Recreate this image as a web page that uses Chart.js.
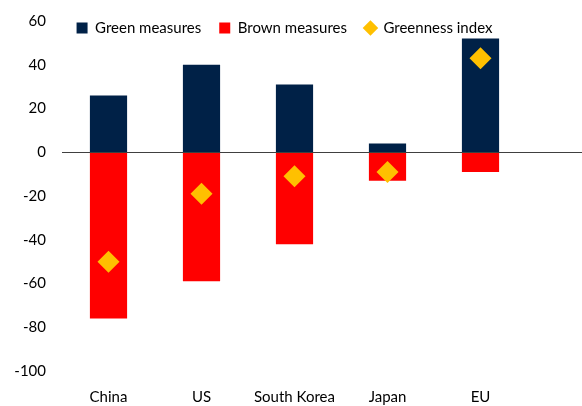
<!DOCTYPE html>
<html>
<head>
<meta charset="utf-8">
<script src="https://cdn.jsdelivr.net/npm/chart.js@4"></script>
<style>
  html, body { margin: 0; padding: 0; background: #fff; }
  #wrap { width: 582px; height: 406px; }
</style>
</head>
<body>
<div id="wrap"><canvas id="chart"></canvas></div>
<script>
// values
const categories = ['China', 'US', 'South Korea', 'Japan', 'EU'];
const greenMeasures = [26, 40, 31, 4, 52];
const brownMeasures = [-76, -59, -42, -13, -9];
const greennessIndex = [-50, -19, -11, -9, 43];
const yTicks = [-100, -80, -60, -40, -20, 0, 20, 40, 60];

const NAVY = '#002147';
const RED = '#FF0000';
const GOLD = '#FFC000';
const FONT = 'Lato, "Open Sans", sans-serif';

// zero line runs past the plot to the right edge, like the original
const zeroLine = {
  id: 'zeroLine',
  afterDatasetsDraw(chart) {
    const y = Math.round(chart.scales.y.getPixelForValue(0)) + 0.5;
    const ctx = chart.ctx;
    ctx.save();
    ctx.strokeStyle = '#404040';
    ctx.lineWidth = 1;
    ctx.beginPath();
    ctx.moveTo(chart.chartArea.left, y);
    ctx.lineTo(chart.width, y);
    ctx.stroke();
    ctx.restore();
  }
};

// legend lives inside the plot area but laid out in one row near the top
const legendInPlot = {
  id: 'legendInPlot',
  beforeLayout(chart) {
    if (chart.legend) chart.legend.isHorizontal = () => true;
  },
  afterLayout(chart) {
    const lg = chart.legend;
    if (!lg) return;
    const area = chart.chartArea;
    lg.left = area.left - 10;
    lg.right = area.right - 10;
    lg.top = area.top - 18.5;
    lg.bottom = lg.top + lg.height;
  }
};

new Chart(document.getElementById('chart'), {
  type: 'bar',
  data: {
    labels: categories,
    datasets: [
      {
        label: 'Green measures',
        data: greenMeasures,
        backgroundColor: NAVY,
        stack: 'measures',
        order: 2
      },
      {
        label: 'Brown measures',
        data: brownMeasures,
        backgroundColor: RED,
        stack: 'measures',
        order: 2
      },
      {
        type: 'line',
        label: 'Greenness index',
        data: greennessIndex,
        showLine: false,
        pointStyle: 'rectRot',
        pointRadius: 11,
        pointHoverRadius: 11,
        pointBackgroundColor: GOLD,
        pointBorderWidth: 0,
        backgroundColor: GOLD,
        borderColor: GOLD,
        stack: 'index',
        order: 1
      }
    ]
  },
  options: {
    responsive: true,
    maintainAspectRatio: false,
    animation: false,
    devicePixelRatio: 1,
    layout: { padding: { top: 21, left: 0, right: 55, bottom: 0 } },
    datasets: {
      bar: { categoryPercentage: 1, barPercentage: 0.4 }
    },
    scales: {
      x: {
        stacked: true,
        grid: { display: false, drawTicks: false },
        border: { display: false },
        ticks: { color: '#000', padding: 17, font: { family: FONT, size: 15 } },
        afterFit(axis) { axis.height = 35; }
      },
      y: {
        stacked: true,
        min: -100,
        max: 60,
        afterBuildTicks(axis) {
          axis.ticks = yTicks.map(v => ({ value: v }));
        },
        grid: { display: false, drawTicks: false },
        border: { display: false },
        ticks: { color: '#000', padding: 16, font: { family: FONT, size: 15 } },
        afterFit(axis) {
          axis.width = 62;
          // tick padding shouldn't push the plot top down
          axis.paddingTop = 0;
          axis.paddingBottom = 0;
        }
      }
    },
    plugins: {
      tooltip: { enabled: false },
      legend: {
        position: 'chartArea',
        align: 'center',
        labels: {
          color: '#000',
          font: { family: FONT, size: 15 },
          usePointStyle: true,
          boxWidth: 11,
          boxHeight: 11,
          padding: 18,
          sort: (a, b) => a.datasetIndex - b.datasetIndex,
          generateLabels(chart) {
            const items = Chart.defaults.plugins.legend.labels.generateLabels(chart);
            return items.map(it => {
              const ds = chart.data.datasets[it.datasetIndex];
              it.pointStyle = ds.type === 'line' ? 'rectRot' : 'rect';
              it.fillStyle = ds.type === 'line' ? GOLD : ds.backgroundColor;
              it.strokeStyle = it.fillStyle;
              it.lineWidth = 0;
              return it;
            });
          }
        }
      }
    }
  },
  plugins: [zeroLine, legendInPlot]
});
</script>
</body>
</html>
